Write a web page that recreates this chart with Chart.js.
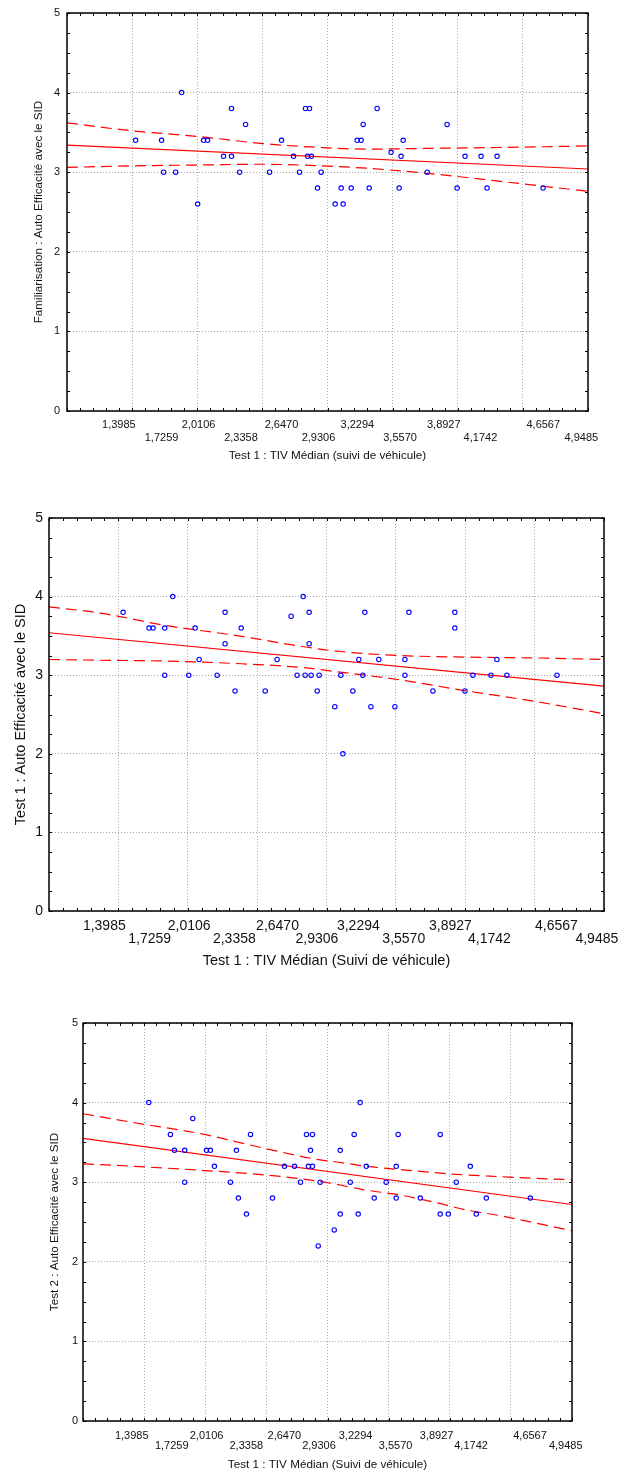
<!DOCTYPE html>
<html>
<head>
<meta charset="utf-8">
<script src="https://cdn.jsdelivr.net/npm/chart.js@4.4.0/dist/chart.umd.min.js"></script>
<style>
  html, body { margin: 0; padding: 0; background: #fff; }
  #wrap { position: relative; width: 619px; height: 1472px; overflow: hidden; }
  canvas { position: absolute; left: 0; }
</style>
</head>
<body>
<div id="wrap">
  <canvas id="c1" width="619" height="475" style="top:0px"></canvas>
  <canvas id="c2" width="619" height="482" style="top:490px"></canvas>
  <canvas id="c3" width="619" height="472" style="top:1000px"></canvas>
</div>
<script>
// shared axis labels
const xTickValues = [1.3985, 1.7259, 2.0106, 2.3358, 2.6470, 2.9306, 3.2294, 3.5570, 3.8927, 4.1742, 4.6567, 4.9485];
const xTickLabels = ['1,3985', '1,7259', '2,0106', '2,3358', '2,6470', '2,9306', '3,2294', '3,5570', '3,8927', '4,1742', '4,6567', '4,9485'];
const xGridValues = [1.5, 2, 2.5, 3, 3.5, 4, 4.5];
const yTickValues = [0, 1, 2, 3, 4, 5];

// chart 1 : Familiarisation
const x1 = [1.527, 1.726, 1.742, 1.834, 1.880, 2.003, 2.049, 2.079, 2.202, 2.263, 2.263, 2.325, 2.371, 2.555, 2.647,
  2.739, 2.785, 2.831, 2.862, 2.847, 2.877, 2.923, 2.951, 3.059, 3.105, 3.120, 3.182, 3.228, 3.258, 3.274,
  3.320, 3.381, 3.488, 3.550, 3.565, 3.581, 3.765, 3.918, 3.995, 4.056, 4.179, 4.225, 4.302, 4.655];
const y1 = [3.4, 3.4, 3.0, 3.0, 4.0, 2.6, 3.4, 3.4, 3.2, 3.8, 3.2, 3.0, 3.6, 3.0, 3.4,
  3.2, 3.0, 3.8, 3.8, 3.2, 3.2, 2.8, 3.0, 2.6, 2.8, 2.6, 2.8, 3.4, 3.4, 3.6,
  2.8, 3.8, 3.25, 2.8, 3.2, 3.4, 3.0, 3.6, 2.8, 3.2, 3.2, 2.8, 3.2, 2.8];
const fitX1 = [1, 5];
const fitY1 = [3.34, 3.04];
const bandX1 = [1.0, 1.5, 2.0, 2.5, 2.95, 3.3, 3.8, 4.3, 5.0];
const upper1 = [3.62, 3.52, 3.45, 3.36, 3.31, 3.29, 3.30, 3.31, 3.33];
const lower1 = [3.06, 3.08, 3.09, 3.10, 3.08, 3.05, 2.98, 2.89, 2.76];

// chart 2 : Test 1
const x2 = [1.534, 1.721, 1.750, 1.834, 1.834, 1.892, 2.007, 2.053, 2.082, 2.212, 2.269, 2.269, 2.341, 2.385, 2.558,
  2.644, 2.745, 2.788, 2.832, 2.846, 2.875, 2.875, 2.889, 2.933, 2.947, 3.060, 3.103, 3.118, 3.190, 3.233,
  3.262, 3.276, 3.320, 3.377, 3.493, 3.565, 3.565, 3.594, 3.767, 3.925, 3.925, 3.998, 4.055, 4.185, 4.228,
  4.300, 4.661];
const y2 = [3.8, 3.6, 3.6, 3.6, 3.0, 4.0, 3.0, 3.6, 3.2, 3.0, 3.8, 3.4, 2.8, 3.6, 2.8,
  3.2, 3.75, 3.0, 4.0, 3.0, 3.8, 3.4, 3.0, 2.8, 3.0, 2.6, 3.0, 2.0, 2.8, 3.2,
  3.0, 3.8, 2.6, 3.2, 2.6, 3.2, 3.0, 3.8, 2.8, 3.8, 3.6, 2.8, 3.0, 3.0, 3.2,
  3.0, 3.0];
const fitX2 = [1, 5];
const fitY2 = [3.54, 2.86];
const bandX2 = [1.0, 1.37, 1.85, 2.33, 2.81, 3.05, 3.53, 4.01, 4.49, 5.0];
const upper2 = [3.87, 3.79, 3.63, 3.51, 3.37, 3.31, 3.25, 3.23, 3.22, 3.20];
const lower2 = [3.20, 3.19, 3.18, 3.15, 3.10, 3.05, 2.94, 2.80, 2.67, 2.51];

// chart 3 : Test 2
const x3 = [1.538, 1.715, 1.748, 1.832, 1.832, 1.898, 2.010, 2.042, 2.075, 2.206, 2.255, 2.271, 2.337, 2.370, 2.550,
  2.648, 2.730, 2.779, 2.828, 2.877, 2.861, 2.844, 2.877, 2.924, 2.940, 3.055, 3.104, 3.104, 3.186, 3.218,
  3.251, 3.267, 3.317, 3.382, 3.480, 3.562, 3.562, 3.578, 3.759, 3.922, 3.922, 3.988, 4.053, 4.168, 4.217,
  4.299, 4.659];
const y3 = [4.0, 3.6, 3.4, 3.4, 3.0, 3.8, 3.4, 3.4, 3.2, 3.0, 3.4, 2.8, 2.6, 3.6, 2.8,
  3.2, 3.2, 3.0, 3.6, 3.6, 3.4, 3.2, 3.2, 2.2, 3.0, 2.4, 2.6, 3.4, 3.0, 3.6,
  2.6, 4.0, 3.2, 2.8, 3.0, 3.2, 2.8, 3.6, 2.8, 3.6, 2.6, 2.6, 3.0, 3.2, 2.6,
  2.8, 2.8];
const fitX3 = [1, 5];
const fitY3 = [3.55, 2.72];
const bandX3 = [1.0, 1.41, 1.96, 2.5, 2.94, 3.05, 3.32, 3.59, 3.87, 4.14, 4.41, 4.69, 5.0];
const upper3 = [3.86, 3.75, 3.61, 3.42, 3.28, 3.26, 3.20, 3.16, 3.12, 3.09, 3.07, 3.05, 3.03];
const lower3 = [3.23, 3.20, 3.15, 3.09, 3.01, 2.98, 2.90, 2.84, 2.75, 2.65, 2.58, 2.49, 2.39];

const FONT = "'Liberation Sans', Arial, sans-serif";
const TEXT = '#111';
const GRID = '#a8a8a8';

function pts(xs, ys) {
  return xs.map((x, i) => ({ x: x, y: ys[i] }));
}

// inner ticks + black frame round the plot
const framePlugin = {
  id: 'frame',
  afterDraw(chart) {
    const { ctx, chartArea: a, scales } = chart;
    const sx = scales.x, sy = scales.y;
    const len = 3;
    ctx.save();
    ctx.strokeStyle = '#000';
    ctx.lineWidth = 1;
    ctx.beginPath();
    for (let i = 10; i <= 50; i++) {
      const px = Math.round(sx.getPixelForValue(i / 10)) + 0.5;
      ctx.moveTo(px, a.bottom); ctx.lineTo(px, a.bottom - len);
      ctx.moveTo(px, a.top); ctx.lineTo(px, a.top + len);
    }
    for (let i = 0; i <= 20; i++) {
      const py = Math.round(sy.getPixelForValue(i / 4)) + 0.5;
      ctx.moveTo(a.left, py); ctx.lineTo(a.left + len, py);
      ctx.moveTo(a.right, py); ctx.lineTo(a.right - len, py);
    }
    ctx.stroke();
    ctx.lineWidth = 1.5;
    ctx.strokeRect(a.left, a.top, a.right - a.left, a.bottom - a.top);
    ctx.restore();
  }
};

function makeChart(id, o) {
  const line = { showLine: true, pointRadius: 0, borderColor: '#ff0000', borderWidth: 1.2, fill: false };
  return new Chart(document.getElementById(id), {
    type: 'scatter',
    data: {
      datasets: [
        { data: pts(o.xs, o.ys), pointStyle: 'circle', pointRadius: 2.2, borderColor: '#0000ff',
          backgroundColor: 'rgba(0,0,0,0)', borderWidth: 1.1 },
        Object.assign({ data: pts(o.fitX, o.fitY) }, line),
        Object.assign({ data: pts(o.bandX, o.upper), borderDash: [11, 6], cubicInterpolationMode: 'monotone' }, line),
        Object.assign({ data: pts(o.bandX, o.lower), borderDash: [11, 6], cubicInterpolationMode: 'monotone' }, line)
      ]
    },
    options: {
      responsive: false,
      animation: false,
      events: [],
      layout: { padding: { left: 0, top: o.top, right: o.right, bottom: 0 } },
      plugins: { legend: { display: false }, tooltip: { enabled: false } },
      scales: {
        x: {
          type: 'linear', position: 'bottom', min: 1, max: 5,
          afterBuildTicks: s => { s.ticks = xGridValues.map(v => ({ value: v })); },
          ticks: { display: false },
          grid: { color: GRID, lineWidth: 1, drawTicks: false },
          border: { display: false, dash: [1, 2] },
          afterFit: s => { s.height = 0; s.paddingLeft = 0; s.paddingRight = 0; }
        },
        xl: {
          type: 'linear', position: 'bottom', min: 1, max: 5,
          afterBuildTicks: s => { s.ticks = xTickValues.map(v => ({ value: v })); },
          ticks: {
            autoSkip: false, maxRotation: 0, minRotation: 0, padding: o.xPad, color: TEXT,
            font: { family: FONT, size: o.fs, lineHeight: o.xLh },
            callback: (v, i) => i % 2 === 0 ? xTickLabels[i] : ['', xTickLabels[i]]
          },
          grid: { display: false, drawTicks: false },
          border: { display: false },
          title: {
            display: true, text: o.xTitle, color: TEXT,
            font: { family: FONT, size: o.tfs, lineHeight: 1.2 },
            padding: { top: 0, bottom: o.xTitlePad }
          },
          afterFit: s => { s.height = o.xAxisH; s.paddingLeft = 0; s.paddingRight = 0; }
        },
        y: {
          type: 'linear', position: 'left', min: 0, max: 5,
          afterBuildTicks: s => { s.ticks = yTickValues.map(v => ({ value: v })); },
          ticks: { padding: o.yPad, color: TEXT, font: { family: FONT, size: o.fs } },
          grid: { color: GRID, lineWidth: 1, drawTicks: false },
          border: { display: false, dash: [1, 2] },
          title: {
            display: true, text: o.yTitle, color: TEXT,
            font: { family: FONT, size: o.tfs, lineHeight: 1.2 },
            padding: { top: o.yTitlePad, bottom: 0 }
          },
          afterFit: s => { s.width = o.left; s.paddingTop = 0; s.paddingBottom = 0; }
        }
      }
    },
    plugins: [framePlugin]
  });
}

makeChart('c1', {
  xs: x1, ys: y1, fitX: fitX1, fitY: fitY1, bandX: bandX1, upper: upper1, lower: lower1,
  left: 67, top: 13, right: 31, xAxisH: 64,
  fs: 11, xLh: 1.2, xPad: 7, yPad: 7, tfs: 11.7, xTitlePad: 12.5, yTitlePad: 31.3,
  xTitle: 'Test 1 : TIV Médian (suivi de véhicule)',
  yTitle: 'Familiarisation : Auto Efficacité avec le SID'
});

makeChart('c2', {
  xs: x2, ys: y2, fitX: fitX2, fitY: fitY2, bandX: bandX2, upper: upper2, lower: lower2,
  left: 49, top: 28, right: 15, xAxisH: 61,
  fs: 14, xLh: 0.95, xPad: 8, yPad: 6, tfs: 14.5, xTitlePad: 2.6, yTitlePad: 11.8,
  xTitle: 'Test 1 : TIV Médian (Suivi de véhicule)',
  yTitle: 'Test 1 : Auto Efficacité avec le SID'
});

makeChart('c3', {
  xs: x3, ys: y3, fitX: fitX3, fitY: fitY3, bandX: bandX3, upper: upper3, lower: lower3,
  left: 83, top: 23, right: 47, xAxisH: 51,
  fs: 11, xLh: 0.9, xPad: 9.7, yPad: 5, tfs: 11.7, xTitlePad: 0, yTitlePad: 48,
  xTitle: 'Test 1 : TIV Médian (Suivi de véhicule)',
  yTitle: 'Test 2 : Auto Efficacité avec le SID'
});
</script>
</body>
</html>
